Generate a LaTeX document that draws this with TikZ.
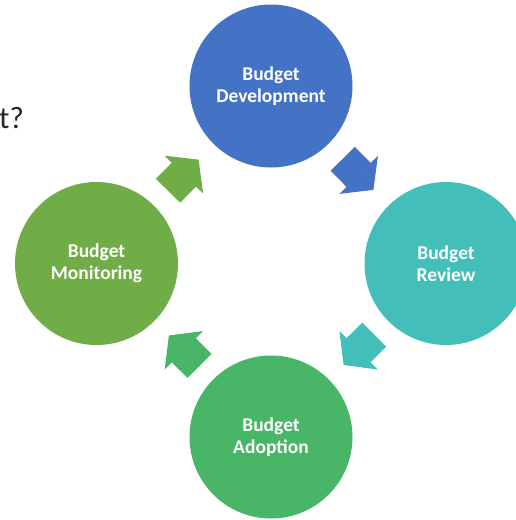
\documentclass[tikz,border=0pt]{standalone}
\usepackage{fontspec}
\setmainfont{Carlito}
\usepackage{tikz}
\usetikzlibrary{positioning,calc,arrows.meta}

\definecolor{devblue}{HTML}{4472C4}
\definecolor{revteal}{HTML}{44BEB8}
\definecolor{adoptgreen}{HTML}{48B666}
\definecolor{mongreen}{HTML}{70AD47}
\definecolor{titlegray}{HTML}{262626}

\begin{document}
\begin{tikzpicture}[x=1pt,y=-1pt,
  phase/.style={circle, minimum size=163pt, inner sep=0pt, text=white,
    font=\bfseries\fontsize{19.5}{21.5}\selectfont, align=center,
    execute at begin node={\rule{0pt}{21pt}}},
  cyclearrow/.style={line width=34pt,
    -{Triangle[length=21pt,width=54pt,line width=1pt]}}]
\useasboundingbox (0,0) rectangle (516,520);

% cut-off title
\node[anchor=base west, inner sep=0pt, text=titlegray,
  font=\fontsize{31}{36}\selectfont] (title) at (-1,128) {t?};

% the four phases
\node[phase, fill=devblue] (dev) at (271,86) {Budget\\Development};
\node[phase, fill=revteal] (rev) at (446,263.5) {Budget\\Review};
\node[phase, fill=adoptgreen] (adopt) at (271,437) {Budget\\Adoption};
\node[phase, fill=mongreen] (mon) at (96.5,263.5) {Budget\\Monitoring};

% arrows between phases
\draw[cyclearrow, draw=mongreen, fill=mongreen] ($(mon)!0.41!(dev)$) -- ($(mon)!0.585!(dev)$);
\draw[cyclearrow, draw=devblue, fill=devblue] ($(dev)!0.41!(rev)$) -- ($(dev)!0.585!(rev)$);
\draw[cyclearrow, draw=revteal, fill=revteal] ($(rev)!0.41!(adopt)$) -- ($(rev)!0.585!(adopt)$);
\draw[cyclearrow, draw=adoptgreen, fill=adoptgreen] ($(adopt)!0.41!(mon)$) -- ($(adopt)!0.585!(mon)$);
\end{tikzpicture}
\end{document}
